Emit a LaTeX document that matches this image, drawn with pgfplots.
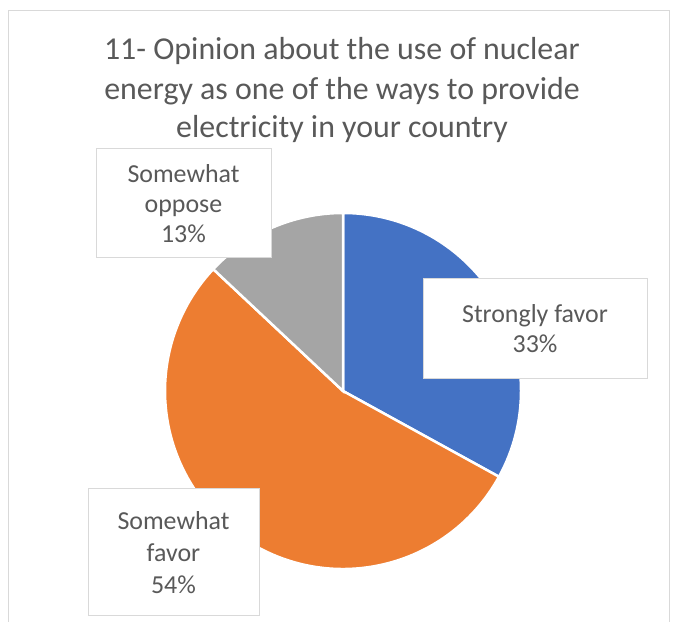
\documentclass[border=0pt]{standalone}
\usepackage{pgfplots}
\pgfplotsset{compat=1.18}
\usepackage{pgfplotstable}
\usepackage{fontspec}
\setmainfont{Carlito}
\definecolor{sfblue}{HTML}{4472C4}
\definecolor{sforange}{HTML}{ED7D31}
\definecolor{sfgray}{HTML}{A5A5A5}
\definecolor{txt}{HTML}{595959}
\definecolor{frame}{HTML}{D9D9D9}

\pgfplotstableread{
label value
{Strongly favor} 33
{Somewhat favor} 54
{Somewhat oppose} 13
}\piedata

\begin{document}
\begin{tikzpicture}
\pgfplotstablegetelem{0}{value}\of\piedata \edef\va{\pgfplotsretval}
\pgfplotstablegetelem{1}{value}\of\piedata \edef\vb{\pgfplotsretval}
\pgfplotstablegetelem{2}{value}\of\piedata \edef\vc{\pgfplotsretval}
\pgfmathsetmacro{\aA}{90}
\pgfmathsetmacro{\aB}{90-3.6*\va}
\pgfmathsetmacro{\aC}{\aB-3.6*\vb}
\pgfmathsetmacro{\aD}{\aC-3.6*\vc}
\def\R{178}
\begin{axis}[
  x=1bp, y=1bp, xmin=0, xmax=673, ymin=0, ymax=622,
  scale only axis, hide axis, clip=false,
]
\path (axis cs:0,0) rectangle (axis cs:673,622);
% frame
\draw[frame, line width=1bp] (axis cs:8,0) -- (axis cs:8,611) -- (axis cs:669,611) -- (axis cs:669,0);
% pie
\filldraw[fill=sfblue, draw=white, line width=2.5bp] (axis cs:343,231) -- ++(\aA:\R bp) arc[start angle=\aA, end angle=\aB, radius=\R bp] -- cycle;
\filldraw[fill=sforange, draw=white, line width=2.5bp] (axis cs:343,231) -- ++(\aB:\R bp) arc[start angle=\aB, end angle=\aC, radius=\R bp] -- cycle;
\filldraw[fill=sfgray, draw=white, line width=2.5bp] (axis cs:343,231) -- ++(\aC:\R bp) arc[start angle=\aC, end angle=\aD, radius=\R bp] -- cycle;
% title
\node[anchor=base, text=txt, font=\fontsize{32}{39}\selectfont] at (axis cs:342,562) {11- Opinion about the use of nuclear};
\node[anchor=base, text=txt, font=\fontsize{32}{39}\selectfont] at (axis cs:342,522) {energy as one of the ways to provide};
\node[anchor=base, text=txt, font=\fontsize{32}{39}\selectfont] at (axis cs:342,484) {electricity in your country};
% labels
\node[draw=frame, line width=1bp, fill=white, text=txt, align=center, font=\fontsize{26}{30}\selectfont,
  minimum width=175bp, minimum height=109bp, inner sep=0pt] at (axis cs:183.5,418.5)
  {Somewhat\\oppose\\\vc\%};
\node[draw=frame, line width=1bp, fill=white, text=txt, align=center, font=\fontsize{26}{30}\selectfont,
  minimum width=224bp, minimum height=100bp, inner sep=0pt] at (axis cs:535,293)
  {Strongly favor\\\va\%};
\node[draw=frame, line width=1bp, fill=white, text=txt, align=center, font=\fontsize{26}{32}\selectfont,
  minimum width=171bp, minimum height=127bp, inner sep=0pt] at (axis cs:173.5,69.5)
  {Somewhat\\favor\\\vb\%};
\end{axis}
\end{tikzpicture}
\end{document}
